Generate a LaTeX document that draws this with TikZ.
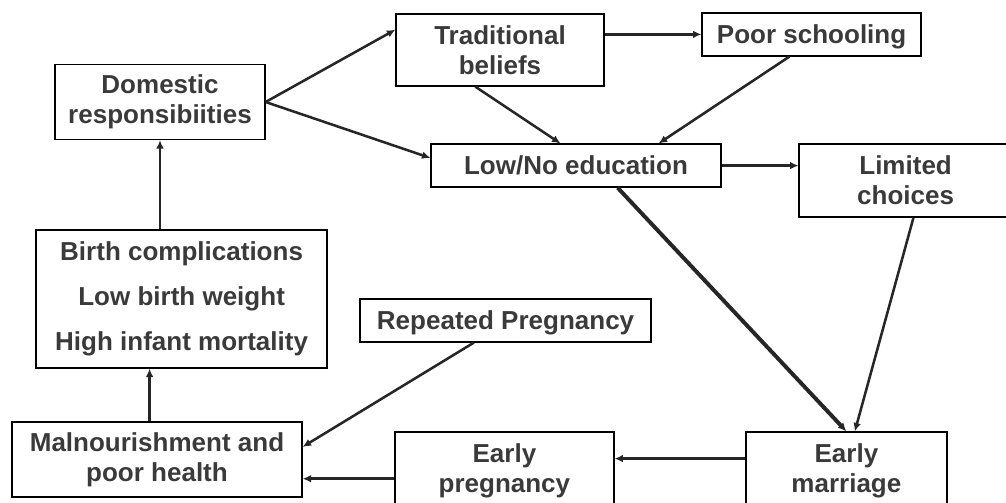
\documentclass[tikz,border=0pt]{standalone}
\usepackage{fontspec}
\setmainfont{Liberation Sans}
\usetikzlibrary{arrows.meta}
\definecolor{boxtext}{HTML}{3A3A3A}
\definecolor{arrowcol}{HTML}{262626}

\begin{document}
\begin{tikzpicture}

    \tikzset{
      causebox/.style={
        draw=black,
        line width=0.9pt,
        rectangle,
        inner sep=0pt,
        align=center,
        text=boxtext,
        font=\fontsize{18.5}{21}\selectfont\bfseries,
      },
      link/.style={
        draw=arrowcol,
        line width=1.8pt,
        -{Latex[length=6pt,width=5.5pt]},
      },
    }
    \useasboundingbox (0,0) rectangle (25.15,-12.55);
    \clip (0,0) rectangle (25.15,-12.55);
	\node[causebox, minimum width=5.25cm, minimum height=1.875cm] (dom) at (4.0,-2.55) {Domestic\\responsibiities};
	\node[causebox, minimum width=5.2cm, minimum height=1.8cm] (trad) at (12.5,-1.25) {Traditional\\beliefs};
	\node[causebox, minimum width=5.475cm, minimum height=1.075cm, text depth=0pt] (poor) at (20.29,-0.86) {Poor schooling};
	\node[causebox, minimum width=7.25cm, minimum height=1.075cm] (lowed) at (14.4,-4.14) {Low/No education};
	\node[causebox, minimum width=5.325cm, minimum height=1.825cm] (limited) at (22.64,-4.51) {Limited\\choices};
	\node[causebox, minimum width=7.275cm, minimum height=3.45cm] (birth) at (4.54,-7.475) {Birth complications\\[11pt]Low birth weight\\[11pt]High infant mortality};
	\node[causebox, minimum width=7.275cm, minimum height=1.075cm, text depth=0pt] (repeated) at (12.64,-8.01) {Repeated Pregnancy};
	\node[causebox, minimum width=7.25cm, minimum height=1.875cm] (maln) at (3.925,-11.49) {Malnourishment and\\poor health};
	\node[causebox, minimum width=5.475cm, minimum height=1.95cm] (earlypreg) at (12.61,-11.775) {Early\\pregnancy};
	\node[causebox, minimum width=5.025cm, minimum height=1.95cm] (earlymar) at (21.16,-11.775) {Early\\marriage};

\draw[link] (dom.east) -- (trad.169);
\draw[link] (dom.east) -- (lowed.177);
\draw[link] (trad.east |- poor.west) -- (poor.west);
\draw[link] (trad.236) -- (lowed.125);
\draw[link] (poor.225) -- (lowed.15);
\draw[link] (lowed.east) -- (lowed.east -| limited.west);
\draw[link, line width=2.8pt] (lowed.-28) -- (earlymar.north);
\draw[link] (limited.-78) -- (earlymar.78);
\draw[link] (earlymar.173) -- (earlymar.173 -| earlypreg.east);
\draw[link] (earlypreg.184) -- (earlypreg.184 -| maln.east);
\draw[link] (repeated.215) -- (maln.5);
\draw[link] (maln.101) -- (maln.101 |- birth.south);
\draw[link] (dom.south |- birth.north) -- (dom.south);

\end{tikzpicture}
\end{document}
